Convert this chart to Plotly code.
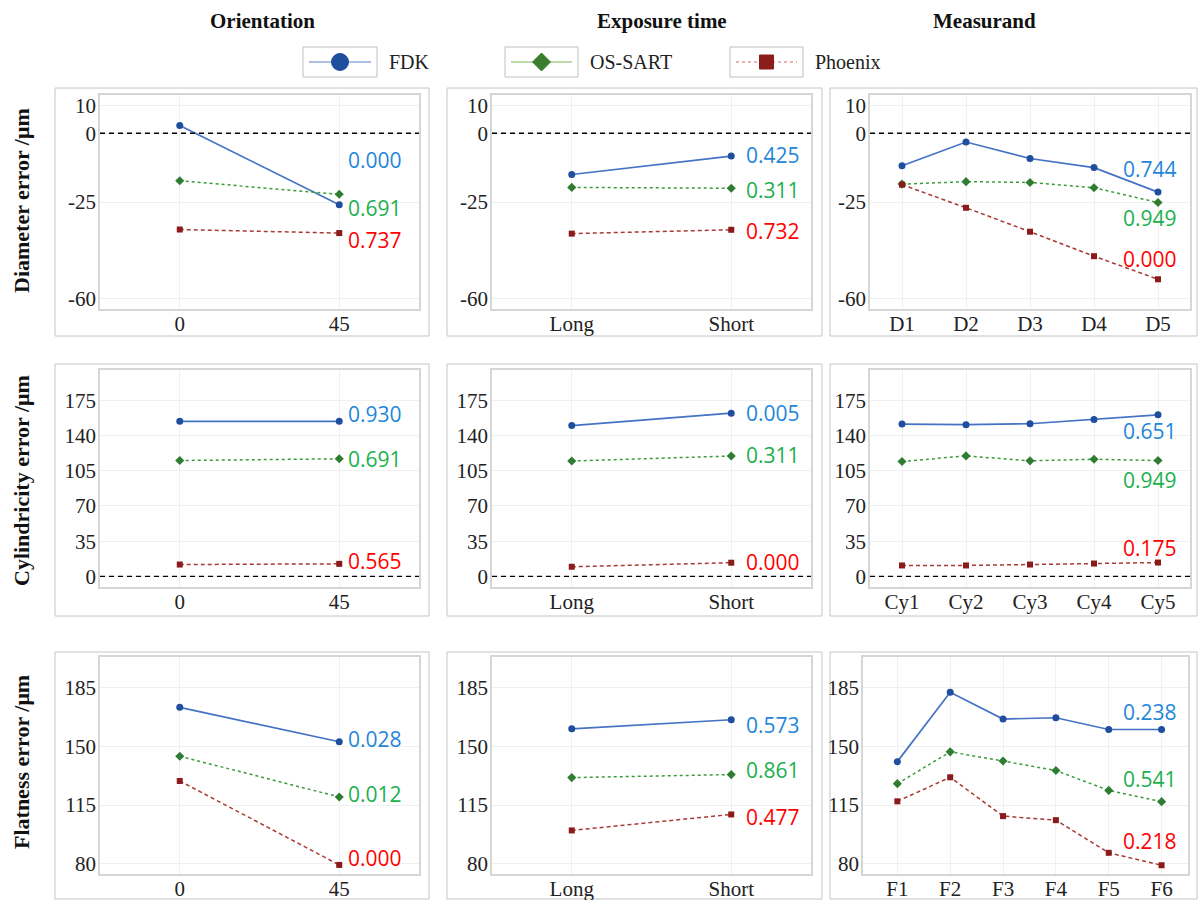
import plotly.graph_objects as go

# ---------------- data ----------------
methods = ["FDK", "OS-SART", "Phoenix"]

orient_cats = ["0", "45"]
expo_cats = ["Long", "Short"]
diam_cats = ["D1", "D2", "D3", "D4", "D5"]
cyl_cats = ["Cy1", "Cy2", "Cy3", "Cy4", "Cy5"]
flat_cats = ["F1", "F2", "F3", "F4", "F5", "F6"]

# Diameter error / um
diam_orient_fdk = [2.8, -26.0]
diam_orient_os = [-17.3, -22.2]
diam_orient_ph = [-35.0, -36.3]
diam_expo_fdk = [-15.0, -8.3]
diam_expo_os = [-19.7, -20.0]
diam_expo_ph = [-36.5, -35.1]
diam_meas_fdk = [-11.8, -3.2, -9.2, -12.5, -21.4]
diam_meas_os = [-18.5, -17.6, -17.9, -19.8, -25.2]
diam_meas_ph = [-18.7, -27.1, -35.8, -44.7, -53.1]

# Cylindricity error / um
cyl_orient_fdk = [154.0, 154.0]
cyl_orient_os = [115.1, 116.8]
cyl_orient_ph = [11.8, 12.5]
cyl_expo_fdk = [149.8, 162.1]
cyl_expo_os = [114.6, 119.6]
cyl_expo_ph = [9.6, 13.6]
cyl_meas_fdk = [151.3, 150.7, 151.6, 155.9, 160.5]
cyl_meas_os = [114.1, 119.7, 114.8, 116.4, 115.1]
cyl_meas_ph = [10.9, 10.9, 11.8, 12.8, 13.8]

# Flatness error / um
flat_orient_fdk = [173.1, 152.6]
flat_orient_os = [144.0, 119.8]
flat_orient_ph = [129.3, 79.4]
flat_expo_fdk = [160.3, 165.7]
flat_expo_os = [131.3, 133.1]
flat_expo_ph = [99.9, 109.4]
flat_meas_fdk = [140.8, 182.0, 166.1, 166.9, 159.9, 159.9]
flat_meas_os = [127.7, 146.6, 141.2, 135.5, 123.7, 117.0]
flat_meas_ph = [117.2, 131.5, 108.4, 106.0, 86.6, 79.2]

# p-values printed next to the series
p_diam = [["0.000", "0.691", "0.737"], ["0.425", "0.311", "0.732"], ["0.744", "0.949", "0.000"]]
p_cyl = [["0.930", "0.691", "0.565"], ["0.005", "0.311", "0.000"], ["0.651", "0.949", "0.175"]]
p_flat = [["0.028", "0.012", "0.000"], ["0.573", "0.861", "0.477"], ["0.238", "0.541", "0.218"]]

col_titles = ["Orientation", "Exposure time", "Measurand"]
row_titles = ["Diameter error /μm", "Cylindricity error /μm", "Flatness error /μm"]
y_ticks = [[-60, -25, 0, 10], [0, 35, 70, 105, 140, 175], [80, 115, 150, 185]]
y_tick_text = [["-60", "-25", "0", "10"], ["0", "35", "70", "105", "140", "175"],
               ["80", "115", "150", "185"]]

panels = [
    [(orient_cats, diam_orient_fdk, diam_orient_os, diam_orient_ph),
     (expo_cats, diam_expo_fdk, diam_expo_os, diam_expo_ph),
     (diam_cats, diam_meas_fdk, diam_meas_os, diam_meas_ph)],
    [(orient_cats, cyl_orient_fdk, cyl_orient_os, cyl_orient_ph),
     (expo_cats, cyl_expo_fdk, cyl_expo_os, cyl_expo_ph),
     (cyl_cats, cyl_meas_fdk, cyl_meas_os, cyl_meas_ph)],
    [(orient_cats, flat_orient_fdk, flat_orient_os, flat_orient_ph),
     (expo_cats, flat_expo_fdk, flat_expo_os, flat_expo_ph),
     (flat_cats, flat_meas_fdk, flat_meas_os, flat_meas_ph)],
]
pvals = [p_diam, p_cyl, p_flat]

# ---------------- layout helpers ----------------
W, H = 1199, 900


def px(x):
    return x / W


def py(y):
    return 1 - y / H


col_x = [(100, 419), (492, 811), (870, 1190)]
row_y = [(95, 309), (370, 587), (657, 874)]
y_ranges = [[-63.9, 13.9], [-10.5, 205], [74, 203]]
outer_x = [(55, 429), (447, 822), (830, 1197)]
outer_y = [(88, 336), (364, 616), (652, 899)]

# annotation positions (pixel x centre, data y)
ann_x = [375, 773, 1150]
ann_y = [
    [[-9.7, -27.1, -38.8], [-7.9, -20.6, -35.4], [-13.0, -30.7, -45.7]],
    [[161.1, 116.6, 15.6], [162.1, 120.1, 14.6], [144.6, 96.1, 28.5]],
    [[154.1, 121.7, 83.5], [162.8, 135.6, 107.7], [170.4, 130.6, 93.4]],
]
ann_colors = ["#1f86d9", "#20b04e", "#ff0000"]

styles = [
    dict(line=dict(color="#4472c4", width=1.7), marker=dict(symbol="circle", size=7, color="#1f4e9e")),
    dict(line=dict(color="#3b9b3b", width=1.5, dash="dot"), marker=dict(symbol="diamond", size=7, color="#2e7d32")),
    dict(line=dict(color="#a83a35", width=1.5, dash="4px,3px"), marker=dict(symbol="square", size=6, color="#8b1a1a")),
]

serif = "Liberation Serif, Times New Roman, serif"

fig = go.Figure()
layout = dict(
    width=W, height=H, margin=dict(l=0, r=0, t=0, b=0, autoexpand=False),
    paper_bgcolor="white", plot_bgcolor="white", showlegend=False,
    font=dict(family=serif, color="#222222"),
)
shapes = []
annotations = []

for r in range(3):
    for c in range(3):
        k = r * 3 + c + 1
        sfx = "" if k == 1 else str(k)
        cats, fdk, os_, ph = panels[r][c]
        for i, ys in enumerate([fdk, os_, ph]):
            fig.add_trace(go.Scatter(
                x=cats, y=ys, mode="lines+markers", name=methods[i],
                xaxis=f"x{sfx}", yaxis=f"y{sfx}", cliponaxis=False, **styles[i]))
        xd = col_x[c]
        if r == 2 and c == 2:
            xd = (863, 1188)
        n = len(cats)
        xr = [-0.5, n - 0.5]
        if r == 2 and c == 2:
            xr = [-0.65, n - 0.5]
        layout[f"xaxis{sfx}"] = dict(
            domain=[px(xd[0]), px(xd[1])], anchor=f"y{sfx}", type="category",
            range=xr, showline=True, mirror=True, linecolor="#d6d6d6", linewidth=1.5,
            showgrid=True, gridcolor="#f0f0f0", zeroline=False, ticks="", automargin=False,
            ticklabelstandoff=-5,
            tickfont=dict(family=serif, size=21, color="#222222"),
        )
        layout[f"yaxis{sfx}"] = dict(
            domain=[py(row_y[r][1]), py(row_y[r][0])], anchor=f"x{sfx}",
            range=y_ranges[r], tickvals=y_ticks[r], ticktext=y_tick_text[r],
            showline=True, mirror=True,
            linecolor="#d6d6d6", linewidth=1.5, showgrid=True, gridcolor="#f0f0f0",
            zeroline=False, ticks="", automargin=False, ticklabelstandoff=-2,
            tickfont=dict(family=serif, size=21, color="#222222"),
        )
        # outer panel box
        shapes.append(dict(type="rect", xref="paper", yref="paper",
                           x0=px(outer_x[c][0]), x1=px(outer_x[c][1]),
                           y0=py(outer_y[r][1]), y1=py(outer_y[r][0]),
                           line=dict(color="#c4c4c4", width=1), layer="below"))
        # zero reference line
        if r < 2:
            shapes.append(dict(type="line", xref=f"x{sfx} domain", yref=f"y{sfx}",
                               x0=0, x1=1, y0=0, y1=0,
                               line=dict(color="black", width=1.3, dash="5px,4px")))
        # p-value labels
        for i in range(3):
            annotations.append(dict(
                text=pvals[r][c][i], xref="paper", yref=f"y{sfx}",
                x=px(ann_x[c]), y=ann_y[r][c][i], showarrow=False,
                xanchor="center", yanchor="middle",
                font=dict(family="Open Sans, sans-serif", size=21, color=ann_colors[i])))

# column titles
for c, (t, cx) in enumerate(zip(col_titles, [262, 662, 985])):
    annotations.append(dict(text=f"<b>{t}</b>", xref="paper", yref="paper",
                            x=px(cx), y=py(21), showarrow=False,
                            xanchor="center", yanchor="middle",
                            font=dict(family=serif, size=21, color="#111111")))

# row titles
for r, (t, cy) in enumerate(zip(row_titles, [201, 481, 762])):
    annotations.append(dict(text=f"<b>{t}</b>", xref="paper", yref="paper",
                            x=px(21), y=py(cy), showarrow=False, textangle=-90,
                            xanchor="center", yanchor="middle",
                            font=dict(family=serif, size=22, color="#111111")))

# custom legend
leg_boxes = [(303, 377), (505, 578), (730, 803)]
leg_line = [dict(color="#8faadc", width=1.5),
            dict(color="#a9d18e", width=1.5),
            dict(color="#e09a9a", width=1.5, dash="dot")]
ly0, ly1, lyc = 47, 77, 62
for i, (bx0, bx1) in enumerate(leg_boxes):
    shapes.append(dict(type="rect", xref="paper", yref="paper",
                       x0=px(bx0), x1=px(bx1), y0=py(ly1), y1=py(ly0),
                       line=dict(color="#bfbfbf", width=1)))
    shapes.append(dict(type="line", xref="paper", yref="paper",
                       x0=px(bx0 + 6), x1=px(bx1 - 6), y0=py(lyc), y1=py(lyc),
                       line=leg_line[i]))
    cx = (bx0 + bx1) / 2
    if i == 0:
        rr = 8.5
        shapes.append(dict(type="circle", xref="paper", yref="paper",
                           x0=px(cx - rr), x1=px(cx + rr), y0=py(lyc + rr), y1=py(lyc - rr),
                           fillcolor="#1f4e9e", line=dict(color="#1f4e9e", width=1)))
    elif i == 1:
        d = 9
        path = (f"M {px(cx - d)},{py(lyc)} L {px(cx)},{py(lyc - d)} "
                f"L {px(cx + d)},{py(lyc)} L {px(cx)},{py(lyc + d)} Z")
        shapes.append(dict(type="path", xref="paper", yref="paper", path=path,
                           fillcolor="#3a7d2c", line=dict(color="#3a7d2c", width=1)))
    else:
        s = 7
        shapes.append(dict(type="rect", xref="paper", yref="paper",
                           x0=px(cx - s), x1=px(cx + s), y0=py(lyc + s), y1=py(lyc - s),
                           fillcolor="#8b1e1a", line=dict(color="#8b1e1a", width=1)))
    annotations.append(dict(text=methods[i], xref="paper", yref="paper",
                            x=px(bx1 + 10), y=py(lyc), showarrow=False,
                            xanchor="left", yanchor="middle",
                            font=dict(family=serif, size=20, color="#222222")))

layout["shapes"] = shapes
layout["annotations"] = annotations
fig.update_layout(**layout)
fig.write_html("out.html", config={"displayModeBar": False},
               post_script="document.body.style.margin='0px';document.body.style.overflow='hidden';")
